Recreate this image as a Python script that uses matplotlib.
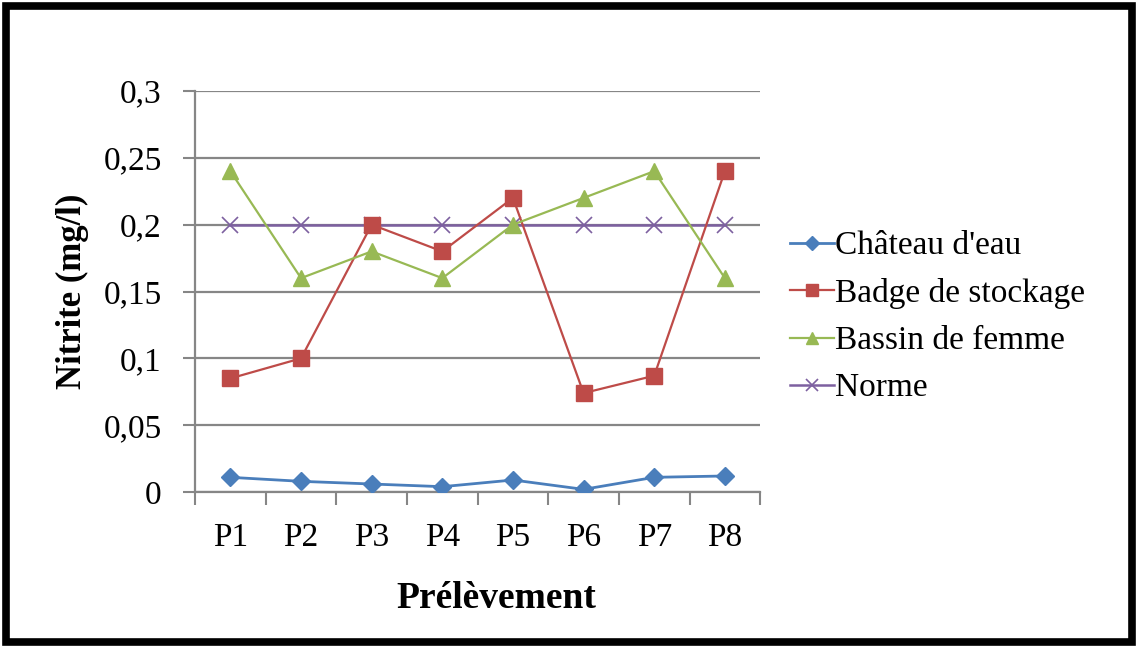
import matplotlib
matplotlib.use("Agg")
import matplotlib.pyplot as plt
from matplotlib.patches import Rectangle
from matplotlib.ticker import FixedLocator, MultipleLocator, FuncFormatter

# sampling points and nitrite levels (mg/l)
points = ["P1", "P2", "P3", "P4", "P5", "P6", "P7", "P8"]
chateau_eau = [0.011, 0.008, 0.006, 0.004, 0.009, 0.002, 0.011, 0.012]
badge_stockage = [0.085, 0.100, 0.200, 0.180, 0.220, 0.074, 0.087, 0.240]
bassin_femme = [0.240, 0.160, 0.180, 0.160, 0.200, 0.220, 0.240, 0.160]
norme = [0.2, 0.2, 0.2, 0.2, 0.2, 0.2, 0.2, 0.2]

series_names = ["Château d'eau", "Badge de stockage", "Bassin de femme", "Norme"]

plt.rcParams['font.family'] = ['Liberation Serif', 'DejaVu Serif']

fig = plt.figure(figsize=(11.38, 6.48), dpi=100)
ax = fig.add_axes([0.1714, 0.2407, 0.4966, 0.6189])

x = list(range(len(points)))
ax.plot(x, chateau_eau, color="#4A7EBB", lw=2, marker="D", ms=9,
        label=series_names[0], zorder=4)
ax.plot(x, badge_stockage, color="#BE4B48", lw=1.6, marker="s", ms=11,
        label=series_names[1], zorder=4)
ax.plot(x, bassin_femme, color="#98B954", lw=1.6, marker="^", ms=11,
        label=series_names[2], zorder=4)
ax.plot(x, norme, color="#7D60A0", lw=1.8, marker="x", ms=11, mew=1.2,
        label=series_names[3], zorder=3)

ax.set_xlim(-0.5, len(points) - 0.5)
ax.set_ylim(0, 0.3)
ax.yaxis.set_major_locator(MultipleLocator(0.05))
ax.yaxis.set_major_formatter(FuncFormatter(
    lambda v, p: ("%g" % round(v, 2)).replace(".", ",")))
ax.set_xticks(x)
ax.set_xticklabels(points)
ax.xaxis.set_minor_locator(FixedLocator([i - 0.5 for i in range(len(points) + 1)]))
ax.tick_params(axis="x", which="major", length=0, pad=22, labelsize=24)
ax.tick_params(axis="x", which="minor", length=9, width=1.5, color="#868686")
ax.tick_params(axis="y", length=9, width=1.5, color="#868686", pad=15, labelsize=24)

ax.grid(axis="y", color="#868686", lw=1.6, zorder=0)
ax.set_axisbelow(True)
for side in ["top", "right"]:
    ax.spines[side].set_visible(False)
for side in ["left", "bottom"]:
    ax.spines[side].set_color("#868686")
    ax.spines[side].set_linewidth(1.6)

ax.set_ylabel("Nitrite (mg/l)", fontsize=25, fontweight="bold", labelpad=10)
ax.set_xlabel("Prélèvement", fontsize=27, fontweight="bold")
ax.xaxis.set_label_coords(0.533, -0.222)

leg = ax.legend(loc="center left", bbox_to_anchor=(1.03, 0.436), frameon=False,
                fontsize=24, handlelength=1.3, handletextpad=0.05,
                labelspacing=0.5, markerscale=0.75, borderaxespad=0)

# black frame around the whole figure
fig.patches.append(Rectangle((0.0057, 0.0085), 0.9886, 0.983, transform=fig.transFigure,
                             fill=False, edgecolor="black", lw=5.5))

fig.savefig("out.png", dpi=100)
